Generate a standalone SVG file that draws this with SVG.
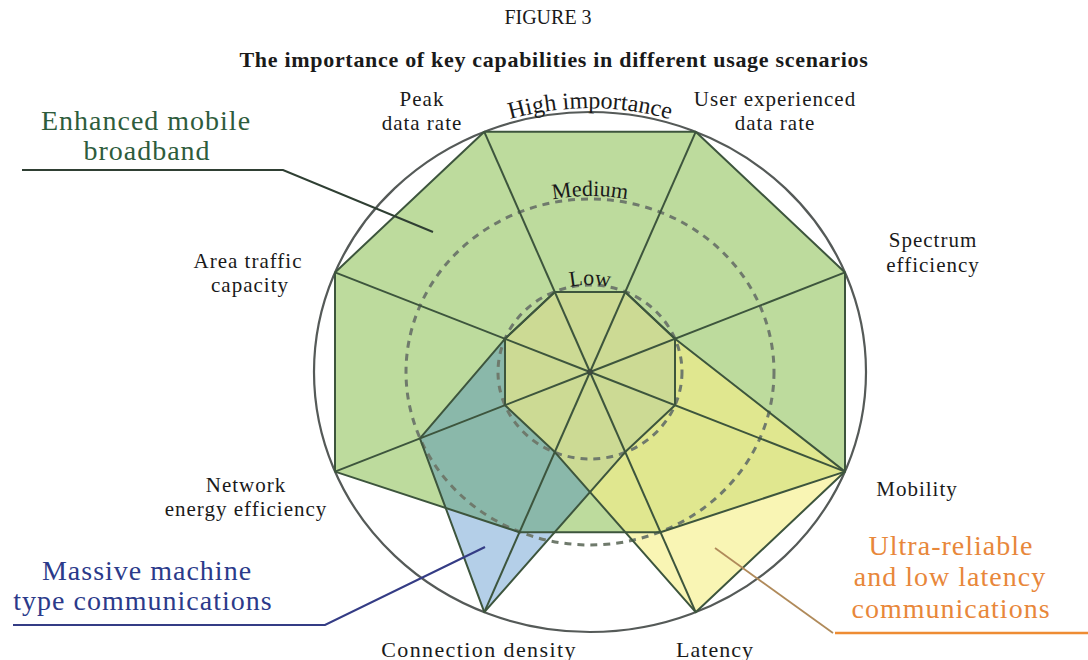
<svg xmlns="http://www.w3.org/2000/svg" width="1088" height="660" viewBox="0 0 1088 660">
  <defs>
    <style>
      .lbl { font-family: "Liberation Serif", "Times New Roman", serif; font-size: 21px; fill: #1a1a1a; letter-spacing: 1px; text-anchor: middle; }
      .lvl { font-family: "Liberation Serif", "Times New Roman", serif; font-size: 22px; fill: #1a1a1a; }
      .scn { font-family: "Liberation Serif", "Times New Roman", serif; font-size: 28px; letter-spacing: 1px; text-anchor: middle; }
      .edge { fill: none; stroke: #3d553d; stroke-width: 2; stroke-linejoin: round; }
      .dash { fill: none; stroke: #6f7a6c; stroke-width: 3; stroke-dasharray: 7 6; }
    </style>
    <path id="arcHigh" d="M 410 170 A 280 264 0 0 1 770 170"/>
    <path id="arcMed" d="M 450 253 A 190 176 0 0 1 730 253"/>
    <path id="arcLow" d="M 510 329 A 92 87 0 0 1 670 329"/>
  </defs>
  <rect width="1088" height="660" fill="#ffffff"/>

  <g id="titles">
    <text x="548" y="24" style="font-family:'Liberation Serif',serif;font-size:20px;fill:#1a1a1a" text-anchor="middle">FIGURE 3</text>
    <text x="554" y="67" style="font-family:'Liberation Serif',serif;font-size:22px;font-weight:bold;letter-spacing:0.7px;fill:#1a1a1a" text-anchor="middle">The importance of key capabilities in different usage scenarios</text>
  </g>

  <g id="embb-area">
    <polygon points="484.3,131.8 695.7,131.8 845,272.4 845,471.6 660.5,532.2 519.5,532.2 335,471.6 335,272.4" fill="#bddb9d"/>
  </g>
  <g id="mmtc-area">
    <polygon points="554.8,291.9 625.2,291.9 675,338.8 675,405.2 625.2,452.1 484.3,612.2 419.9,438.4 505,338.8" fill="#347dc1" fill-opacity="0.37"/>
  </g>
  <g id="urllc-area">
    <polygon points="554.8,291.9 625.2,291.9 675,338.8 845,471.6 695.7,612.2 554.8,452.1 505,405.2 505,338.8" fill="#f6ef86" fill-opacity="0.62"/>
  </g>

  <g id="rings">
    <ellipse cx="590" cy="372" rx="276" ry="260" fill="none" stroke="#555a58" stroke-width="2.2"/>
    <ellipse cx="590" cy="372" rx="184" ry="173" class="dash"/>
    <ellipse cx="590" cy="372" rx="92" ry="87" class="dash"/>
  </g>

  <g id="connectors">
    <g id="spokes">
      <line x1="590" y1="372" x2="484.3" y2="131.8" class="edge"/>
      <line x1="590" y1="372" x2="695.7" y2="131.8" class="edge"/>
      <line x1="590" y1="372" x2="845" y2="272.4" class="edge"/>
      <line x1="590" y1="372" x2="845" y2="471.6" class="edge"/>
      <line x1="590" y1="372" x2="695.7" y2="612.2" class="edge"/>
      <line x1="590" y1="372" x2="484.3" y2="612.2" class="edge"/>
      <line x1="590" y1="372" x2="335" y2="471.6" class="edge"/>
      <line x1="590" y1="372" x2="335" y2="272.4" class="edge"/>
    </g>
    <polygon class="edge" points="484.3,131.8 695.7,131.8 845,272.4 845,471.6 660.5,532.2 519.5,532.2 335,471.6 335,272.4"/>
    <polygon class="edge" points="554.8,291.9 625.2,291.9 675,338.8 675,405.2 625.2,452.1 484.3,612.2 419.9,438.4 505,338.8"/>
    <polygon class="edge" points="554.8,291.9 625.2,291.9 675,338.8 845,471.6 695.7,612.2 554.8,452.1 505,405.2 505,338.8"/>
    <circle cx="590" cy="372" r="3" fill="#3d4a3d"/>
    <polyline points="22,170 283,170 433,232" fill="none" stroke="#2f3f33" stroke-width="2"/>
    <polyline points="13,625 325,625 485,547" fill="none" stroke="#343c85" stroke-width="2.2"/>
    <polyline points="715,548 833,633" fill="none" stroke="#b08a5a" stroke-width="1.8"/>
    <line x1="835" y1="633" x2="1088" y2="633" stroke="#ee8c33" stroke-width="2.5"/>
  </g>

  <g id="levels">
    <text class="lvl" style="font-size:24px"><textPath href="#arcHigh" startOffset="50%" text-anchor="middle">High importance</textPath></text>
    <text class="lvl"><textPath href="#arcMed" startOffset="50%" text-anchor="middle">Medium</textPath></text>
    <text class="lvl"><textPath href="#arcLow" startOffset="50%" text-anchor="middle">Low</textPath></text>
  </g>

  <g id="axis-labels">
    <g id="peak"><text class="lbl" x="422" y="106">Peak</text><text class="lbl" x="422" y="130">data rate</text></g>
    <g id="user"><text class="lbl" x="775" y="106">User experienced</text><text class="lbl" x="775" y="130">data rate</text></g>
    <g id="spectrum"><text class="lbl" x="933" y="247">Spectrum</text><text class="lbl" x="933" y="272">efficiency</text></g>
    <g id="mobility"><text class="lbl" x="917" y="496">Mobility</text></g>
    <g id="latency"><text class="lbl" x="715" y="657" style="font-size:22px">Latency</text></g>
    <g id="connection"><text class="lbl" x="479" y="657" style="font-size:22px;letter-spacing:1.4px">Connection density</text></g>
    <g id="network"><text class="lbl" x="246" y="492">Network</text><text class="lbl" x="246" y="516">energy efficiency</text></g>
    <g id="area"><text class="lbl" x="248" y="268">Area traffic</text><text class="lbl" x="250" y="292">capacity</text></g>
  </g>

  <g id="embb-label">
    <text class="scn" x="146" y="130" fill="#2e5c3c">Enhanced mobile</text>
    <text class="scn" x="147" y="160" fill="#2e5c3c">broadband</text>
  </g>
  <g id="mmtc-label">
    <text class="scn" x="147" y="580" fill="#2b3a8a">Massive machine</text>
    <text class="scn" x="143" y="610" fill="#2b3a8a">type communications</text>
  </g>
  <g id="urllc-label">
    <text class="scn" x="951" y="555" fill="#e8873a">Ultra-reliable</text>
    <text class="scn" x="950" y="586" fill="#e8873a">and low latency</text>
    <text class="scn" x="951" y="618" fill="#e8873a">communications</text>
  </g>
</svg>
